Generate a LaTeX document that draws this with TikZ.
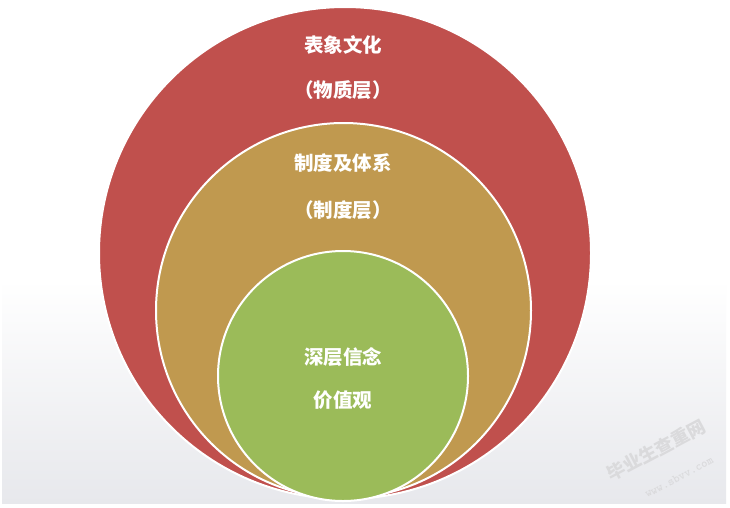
\documentclass[tikz,border=0pt]{standalone}
\usepackage{fontspec}
\newfontfamily\cjk{Noto Sans CJK SC}
\usetikzlibrary{shapes.geometric}
\definecolor{outerred}{HTML}{C0504D}
\definecolor{midtan}{HTML}{C0994F}
\definecolor{innergreen}{HTML}{9BBB59}
\definecolor{bgbottom}{HTML}{E7E8EC}
\definecolor{wmark}{HTML}{DADADC}
\tikzset{
  ring/.style={circle, draw=white, line width=2pt, inner sep=0pt, outer sep=0pt},
  label/.style={text=white, font=\cjk\bfseries\fontsize{19.5}{22}\selectfont, inner sep=0pt},
  wm/.style={text=wmark, inner sep=0pt, rotate=28}
}
\begin{document}
\begin{tikzpicture}[x=1pt,y=-1pt]
\useasboundingbox (0,0) rectangle (730,507);
% background
\fill[white] (0,0) rectangle (730,507);
\shade[top color=white, bottom color=bgbottom] (2,280) rectangle (726,503);
% rings
\node[ring, fill=outerred, minimum size=492pt] (outer) at (345,253) {};
\node[ring, fill=midtan, minimum size=375pt] (middle) at (343.5,310.5) {};
\node[ring, fill=innergreen, minimum size=250pt] (inner) at (343,376) {};
% labels
\node[label] (t1) at (343,45) {表象文化};
\node[label] (t2) at (343,90) {（物质层）};
\node[label] (t3) at (343,163) {制度及体系};
\node[label] (t4) at (343,210) {（制度层）};
\node[label] (t5) at (343,357) {深层信念};
\node[label] (t6) at (343,400) {价值观};
% watermark
\node[wm, font=\cjk\bfseries\fontsize{18}{19}\selectfont] (w1) at (656,450) {毕业生查重网};
\node[wm, font=\ttfamily\bfseries\fontsize{12}{13}\selectfont] (w2) at (679,477) {www.sbvv.com};
\end{tikzpicture}
\end{document}
